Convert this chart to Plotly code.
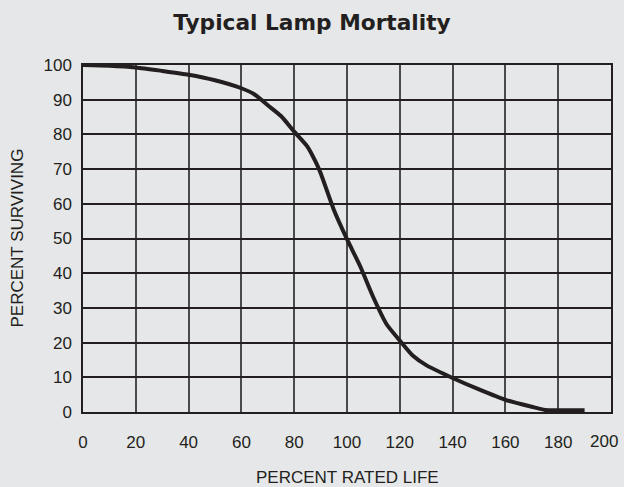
import plotly.graph_objects as go

rated_life = [0, 10, 20, 30, 40, 50, 60, 65, 70, 75, 80, 85, 88, 90, 95, 100, 105, 110, 115, 120, 125, 130, 140, 150, 160, 170, 175, 180, 190]
surviving = [100, 99.8, 99.3, 98.3, 97.2, 95.6, 93.3, 91.5, 88.4, 85.3, 80.8, 76.5, 72.3, 68.9, 58.3, 49.8, 42, 33, 25.3, 20.6, 16.2, 13.5, 9.8, 6.5, 3.5, 1.5, 0.6, 0.5, 0.5]
x_ticks = list(range(0, 201, 20))
y_ticks = list(range(0, 101, 10))

BG = "#e6e7e8"
INK = "#231f20"
FONT = "Liberation Sans, Arial, sans-serif"
TITLE_FONT = "DejaVu Sans, Liberation Sans, sans-serif"

fig = go.Figure()
fig.add_trace(go.Scatter(
    x=rated_life, y=surviving, mode="lines",
    line=dict(color=INK, width=4, shape="spline", smoothing=0.6),
    hoverinfo="skip", showlegend=False,
))

x_labels = [str(v) for v in x_ticks]
x_labels[-1] = ""  # last label drawn as annotation, nudged inside

fig.update_layout(
    width=624, height=487,
    paper_bgcolor=BG, plot_bgcolor=BG,
    margin=dict(l=83, r=13, t=65, b=75),
    font=dict(family=FONT, size=17, color=INK),
    title=dict(text="<b>Typical Lamp Mortality</b>", x=0.5, xanchor="center",
               y=1 - 22 / 487, yanchor="middle",
               font=dict(family=TITLE_FONT, size=21.7, color=INK)),
    annotations=[
        dict(text="PERCENT RATED LIFE", xref="paper", yref="paper", x=0.5, y=0,
             yshift=-65, showarrow=False, xanchor="center", yanchor="middle",
             font=dict(family=FONT, size=17, color=INK)),
        dict(text="PERCENT SURVIVING", xref="paper", yref="paper", x=0, y=0.5,
             xshift=-66, showarrow=False, textangle=-90, xanchor="center", yanchor="middle",
             font=dict(family=FONT, size=17, color=INK)),
        dict(text=str(x_ticks[-1]), xref="x", yref="paper", x=x_ticks[-1], y=0,
             xshift=-7, yshift=-29, showarrow=False, xanchor="center", yanchor="middle",
             font=dict(family=FONT, size=17, color=INK)),
    ],
)
fig.update_xaxes(
    range=[0, 200], tickvals=x_ticks, ticktext=x_labels,
    showgrid=True, gridcolor="#4a4a4a", gridwidth=1.5,
    showline=True, linecolor=INK, linewidth=1.5, mirror=True,
    zeroline=False, ticks="", ticklabelstandoff=14, automargin=False,
    fixedrange=True,
)
fig.update_yaxes(
    range=[0, 100], tickvals=y_ticks, ticktext=[str(v) for v in y_ticks],
    showgrid=True, gridcolor=INK, gridwidth=1.5,
    showline=True, linecolor=INK, linewidth=1.5, mirror=True,
    zeroline=False, ticks="", ticklabelstandoff=6, automargin=False,
    fixedrange=True,
)

fig.write_html(
    "out.html",
    config={"displayModeBar": False},
    post_script="document.body.style.margin='0';document.body.style.background='#e6e7e8';",
)
